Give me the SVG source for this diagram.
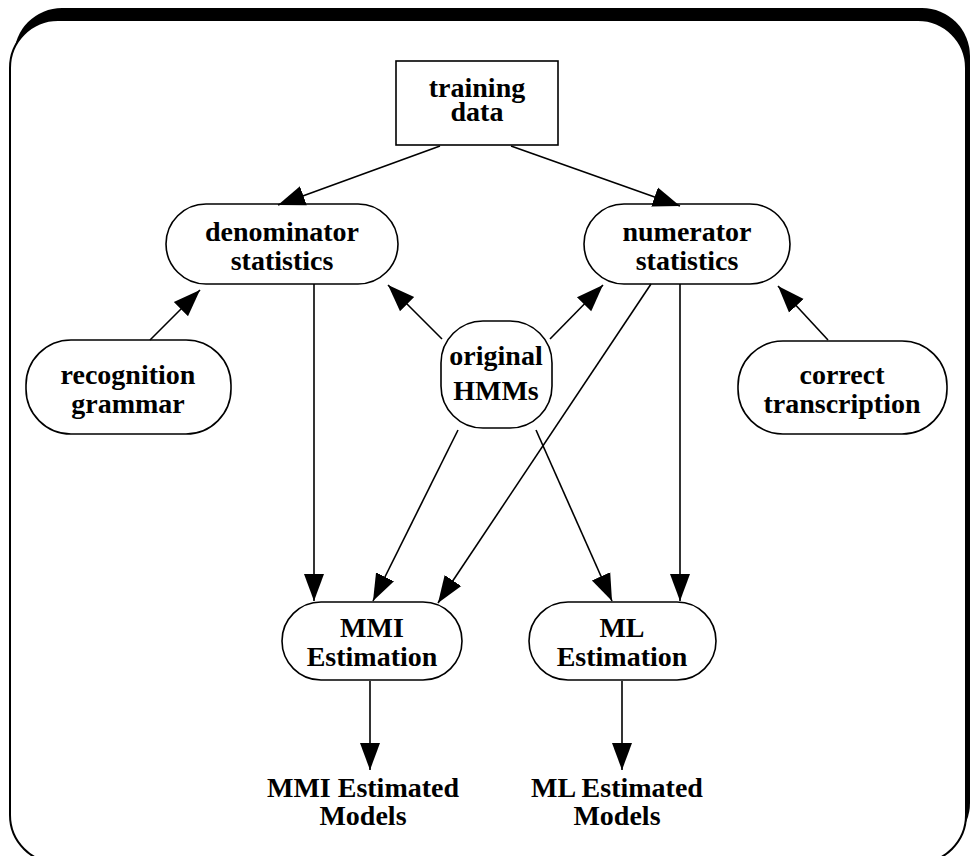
<svg xmlns="http://www.w3.org/2000/svg" width="972" height="856" viewBox="0 0 972 856">
<defs>
<style>
.t{font-family:"Liberation Serif","Times New Roman",serif;font-weight:bold;font-size:28px;text-anchor:middle;fill:#000}
.n{fill:#fff;stroke:#000;stroke-width:1.6}
.c line{stroke:#000;stroke-width:1.6}
</style>
<marker id="ah" markerUnits="userSpaceOnUse" markerWidth="28" markerHeight="22" viewBox="0 0 28 22" refX="27" refY="11" orient="auto">
<path d="M0,1 L27,11 L0,21 Z" fill="#000"/>
</marker>
</defs>
<rect x="14" y="8" width="956" height="843" rx="48" fill="#000"/>
<rect x="10" y="20" width="956" height="843" rx="48" fill="#fff" stroke="#000" stroke-width="2"/>

<g id="training-data"><rect class="n" x="396" y="61" width="162" height="84"/><text class="t" x="477" y="97">training</text><text class="t" x="477" y="121">data</text></g>
<g id="denominator-statistics"><rect class="n" x="166" y="204" width="232" height="80" rx="40"/><text class="t" x="282" y="241">denominator</text><text class="t" x="282" y="270">statistics</text></g>
<g id="numerator-statistics"><rect class="n" x="584" y="204" width="206" height="80" rx="40"/><text class="t" x="687" y="241">numerator</text><text class="t" x="687" y="270">statistics</text></g>
<g id="recognition-grammar"><rect class="n" x="26" y="340" width="205" height="94" rx="45"/><text class="t" x="128" y="384">recognition</text><text class="t" x="128" y="413">grammar</text></g>
<g id="original-hmms"><rect class="n" x="441" y="321" width="111" height="107" rx="42"/><text class="t" x="496" y="365">original</text><text class="t" x="496" y="400">HMMs</text></g>
<g id="correct-transcription"><rect class="n" x="738" y="341" width="209" height="93" rx="45"/><text class="t" x="842" y="384">correct</text><text class="t" x="842" y="413">transcription</text></g>
<g id="mmi-estimation"><rect class="n" x="282" y="602" width="180" height="78" rx="39"/><text class="t" x="372" y="637">MMI</text><text class="t" x="372" y="666">Estimation</text></g>
<g id="ml-estimation"><rect class="n" x="529" y="602" width="187" height="78" rx="39"/><text class="t" x="622" y="637">ML</text><text class="t" x="622" y="666">Estimation</text></g>
<g id="mmi-models"><text class="t" x="363" y="797">MMI Estimated</text><text class="t" x="363" y="825">Models</text></g>
<g id="ml-models"><text class="t" x="617" y="797">ML Estimated</text><text class="t" x="617" y="825">Models</text></g>

<g class="c" id="connectors">
<line x1="440" y1="146" x2="278" y2="205" marker-end="url(#ah)"/>
<line x1="511" y1="146" x2="680" y2="206" marker-end="url(#ah)"/>
<line x1="150" y1="340" x2="200" y2="290" marker-end="url(#ah)"/>
<line x1="442" y1="339" x2="388" y2="285" marker-end="url(#ah)"/>
<line x1="550" y1="339" x2="603" y2="285" marker-end="url(#ah)"/>
<line x1="828" y1="340" x2="778" y2="286" marker-end="url(#ah)"/>
<line x1="314" y1="284" x2="314" y2="601" marker-end="url(#ah)"/>
<line x1="680" y1="284" x2="680" y2="601" marker-end="url(#ah)"/>
<line x1="458" y1="430" x2="373" y2="601" marker-end="url(#ah)"/>
<line x1="536" y1="430" x2="612" y2="601" marker-end="url(#ah)"/>
<line x1="651" y1="284" x2="438" y2="603" marker-end="url(#ah)"/>
<line x1="370" y1="681" x2="370" y2="770" marker-end="url(#ah)"/>
<line x1="622" y1="681" x2="622" y2="770" marker-end="url(#ah)"/>
</g>
</svg>
